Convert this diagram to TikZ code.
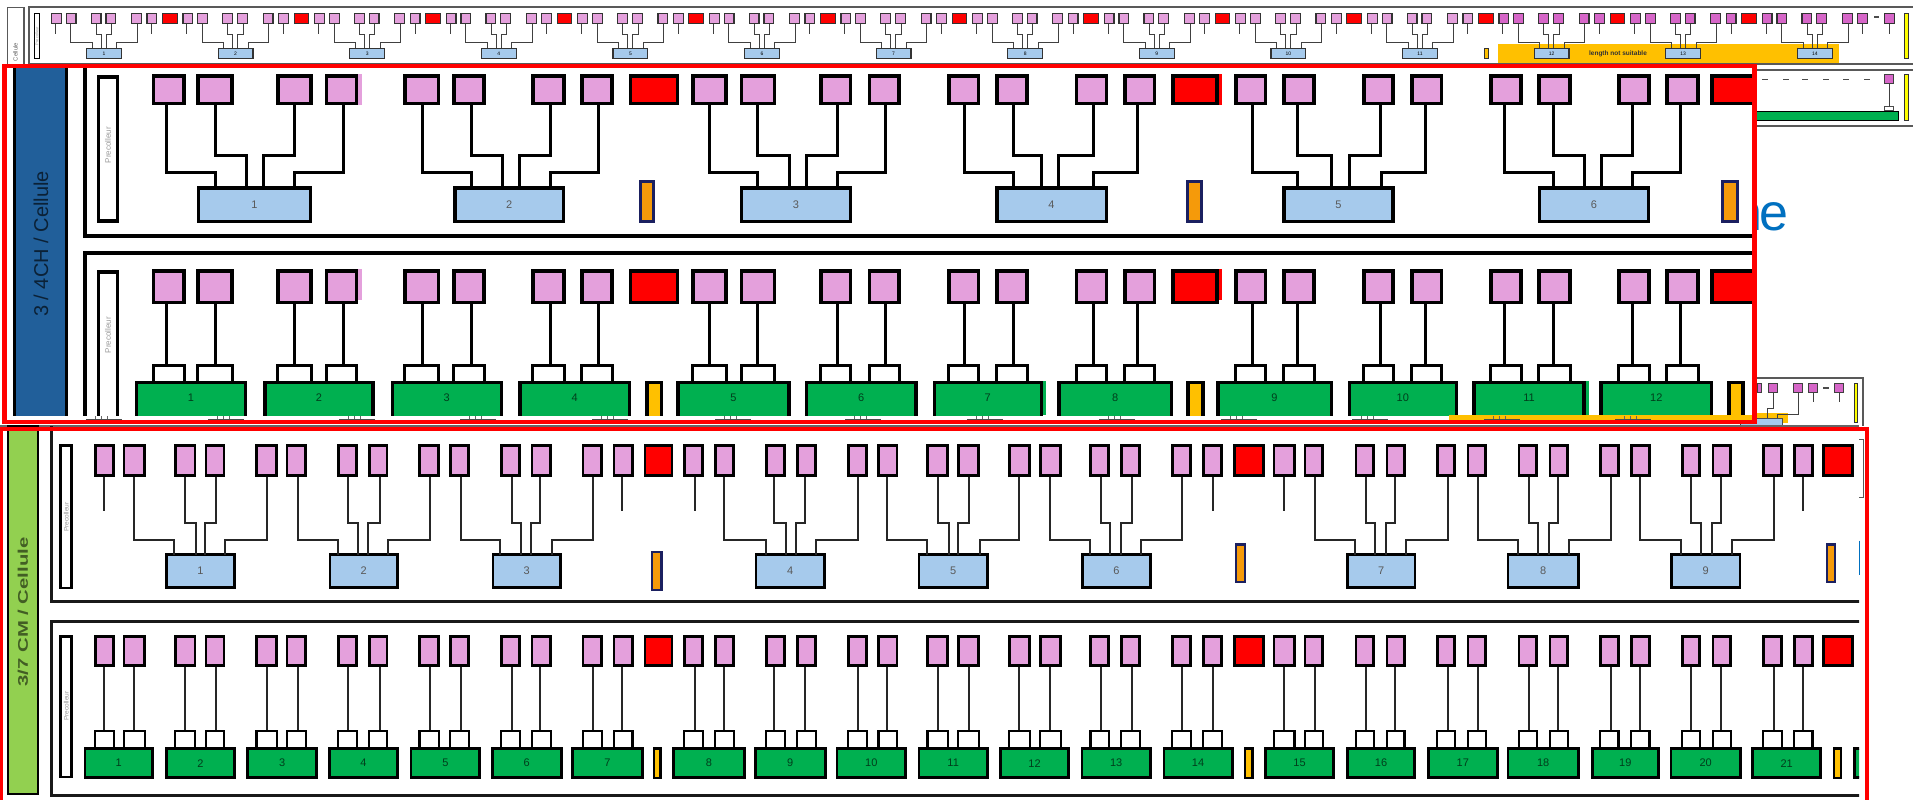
\documentclass[tikz,border=0pt]{standalone}
\usepackage{fontspec}
\setmainfont{Liberation Sans}
\definecolor{pk}{HTML}{E4A0DC}
\definecolor{pkd}{HTML}{D666C8}
\definecolor{lb}{HTML}{A6CAEC}
\definecolor{gr}{HTML}{00B050}
\definecolor{am}{HTML}{FFC000}
\definecolor{og}{HTML}{F59A0A}
\definecolor{nv}{HTML}{1B2060}
\definecolor{sb}{HTML}{215F9A}
\definecolor{sg}{HTML}{92D050}
\definecolor{ye}{HTML}{FFFF00}
\definecolor{bt}{HTML}{0070C0}
\newcommand{\bx}[8]{\node[draw,rectangle,inner sep=0pt,outer sep=0pt,line width=#3pt,#2,minimum width={((#5)-(#4)-(#3))*1pt},minimum height={((#7)-(#6)-(#3))*1pt}] (#1) at ({((#4)+(#5))/2},{((#6)+(#7))/2}) {#8};}
\newcommand{\fz}[1]{\fontsize{#1pt}{#1pt}\selectfont}
\tikzset{
 leadA/.style={line width=3pt,draw=black},
 leadC/.style={line width=2pt,draw=black!85},
 leadS/.style={line width=1pt,draw=black!75},
 panelA/.style={line width=4pt,draw=black},
 panelC/.style={line width=3pt,draw=black!90},
 panelS/.style={line width=1.6pt,draw=black!65},
 frameR/.style={line width=4.4pt,draw=red},
 pinkbox/.style={fill=pk},
 pinkdark/.style={fill=pkd},
 redbox/.style={fill=red},
 tabbox/.style={fill=white},
 bluebox/.style={fill=lb},
 greenbox/.style={fill=gr},
 amberbox/.style={fill=am},
 orangebox/.style={fill=og,draw=nv},
 yellowbox/.style={fill=ye},
 lab/.style={fill=white},
 tinylab/.style={rotate=90,text=black!40,inner sep=0pt,font=\fz{6}},
}
\begin{document}
\begin{tikzpicture}[x=1pt,y=-1pt]
\useasboundingbox[fill=white] (0,0) rectangle (1913,800);
% ---- text behind the frame
\node[text=bt,anchor=base east,inner sep=0pt,font=\fz{52}] (bluetext) at (1789,230) {n\kern-3pt e};
% ---- top strip
\draw[panelS] (1913,7) -| (29,64) -- (1913,64);
\bx{cel}{lab,draw=black!65}{1.2}{7}{24.5}{7}{66}{}
\node[rotate=90,text=black!60,inner sep=0pt,font=\fz{6}] (celtxt) at (15.5,52) {Cellule};
\bx{slab}{lab}{1.2}{33.7}{40.4}{12.7}{59}{}
\node[tinylab,font=\fz{4}] (slabt) at (37,36) {Precolleur};
\fill[am] (1498,44) rectangle (1838.7,63.3);
\foreach \k in {0,...,13}{
 \pgfmathsetmacro{\s}{50.8+131.6*\k}
 \pgfmathtruncatemacro{\n}{\k+1}
 \ifnum\k>10 \def\pkst{pinkdark}\else\def\pkst{pinkbox}\fi
 \foreach \o/\lx [count=\j] in {0/4.5,14.7/20,39.8/45.5,54.5/60.8,80.2/86.5,95.6/101}{
  \bx{s\n p\j}{\pkst,draw=black!80}{1.2}{\s+\o}{\s+\o+11}{12.7}{24}{}
  \coordinate (s\n l\j) at ({\s+\lx},24);
 }
 \ifnum\k<13 \bx{s\n r}{redbox,draw=black!80}{1}{\s+111.2}{\s+126.8}{12.7}{24}{}\fi
 \bx{s\n b}{bluebox,draw=black!80}{1.2}{\s+35.2}{\s+71.2}{48}{59.5}{\fz{5}\n}
 \draw[leadS] (s\n l1) -- ++(0,10);
 \draw[leadS] (s\n l6) -- ++(0,10);
 \draw[leadS] (s\n l2) |- ({\s+41.5},42.7) -- ({\s+41.5},48);
 \draw[leadS] (s\n l3) |- ({\s+50.5},34.3) -- ({\s+50.5},48);
 \draw[leadS] (s\n l4) |- ({\s+55.5},34.3) -- ({\s+55.5},48);
 \draw[leadS] (s\n l5) |- ({\s+66},42.7) -- ({\s+66},48);
}
\node[inner sep=0pt,font=\fz{6.5}\bfseries,text=black!80] (lns) at (1618,54) {length not suitable};
\draw[line width=1.4pt,black!70] (1874.4,17) -- (1879.4,17);
\bx{slast}{pinkdark,draw=black!80}{1.2}{1884}{1894.7}{12.7}{24}{}
\coordinate (slastl) at (1889,24);
\draw[leadS] (slastl) -- ++(0,10);
\bx{sor}{amberbox,draw=black!80}{1}{1484}{1489}{48}{59.5}{}
\bx{sye}{yellowbox,draw=black!80}{1}{1904}{1908.6}{12.7}{59.5}{}
% ---- right fragment, upper
\draw[panelS] (1913,70) -- (1757,70);
\draw[panelS] (1757,126) -- (1913,126);
\foreach \xa in {1762,1783,1802,1823,1843,1864}{\draw[line width=1.2pt,black!70] (\xa,79.5) -- ++(5.5,0);}
\bx{fg}{greenbox}{1.2}{1740}{1899}{110.7}{120.7}{}
\bx{ft}{tabbox,draw=black!70}{1}{1884}{1894.3}{106}{110.7}{}
\bx{fp}{pinkdark,draw=black!75}{1.2}{1884}{1894.3}{74}{84.3}{}
\draw[leadS] (fp.south) -- (ft.north);
\bx{fy}{yellowbox,draw=black!80}{1}{1904}{1909}{74}{120.7}{}
% ---- right fragment, lower
\draw[panelS] (1740,378) -- (1863,378) -- (1863,426);
\fill[am] (1740,413) rectangle (1788,423);
\bx{gp1}{pinkdark,draw=black!75}{1.2}{1757}{1762}{383}{393}{}
\bx{gp2}{pinkdark,draw=black!75}{1.2}{1768}{1778}{383}{393}{}
\bx{gp3}{pinkdark,draw=black!75}{1.2}{1793}{1803}{383}{393}{}
\bx{gp4}{pinkdark,draw=black!75}{1.2}{1808}{1818}{383}{393}{}
\bx{gp5}{pinkdark,draw=black!75}{1.2}{1834}{1844}{383}{393}{}
\draw[line width=1.2pt,black!70] (1823,388) -- (1829,388);
\bx{gb}{bluebox,draw=black!70}{1}{1740}{1783}{418}{430}{}
\draw[leadS] (gp2.south) |- (1767,408) -- (1767,418);
\draw[leadS] (gp3.south) |- (1777,414) -- (1777,418);
\draw[leadS] (gp4.south) -- ++(0,10);
\draw[leadS] (gp5.south) -- ++(0,10);
\bx{gy}{yellowbox,draw=black!80}{1}{1853.7}{1858}{383}{423}{}
\draw[line width=2pt,black!60] (0,426) -- (1859,426);
% ---- section 2 (3/4 CH)
\fill[white] (3,66) rectangle (1754,421);
\begin{scope}
\clip (3,66) rectangle (1752.5,415);
\bx{sideA}{fill=sb}{3}{13.3}{68}{50}{440}{}
\draw[panelA] (1760,235.7) -| (85,50);
\draw[panelA] (85,430) |- (1760,252.7);
\bx{labAa}{lab}{3.5}{96.7}{119}{75}{222.7}{}
\bx{labAb}{lab}{3.5}{96.7}{119}{270}{440}{}
\node[tinylab,font=\fz{8}] (labAat) at (108,145) {Precolleur};
\node[tinylab,font=\fz{8}] (labAbt) at (108,335) {Precolleur};
\foreach \lf/\rt/\lx [count=\i] in {151.8/185.7/166.5,196.3/233.5/215,276/312.6/294,324.5/358/343,403/440.4/422.4,452/485.7/471,531.4/565.7/550,580.4/613.5/598.4,691/727.6/709.7,739.5/776.3/757.4,819/852.4/837,867.9/900.7/885.8,947/980.3/964.9,995/1028.6/1013,1074.8/1108/1093,1123/1156.4/1137.5,1234/1267/1252,1282/1315.6/1297,1362/1394.7/1380,1410/1443.3/1425,1489.3/1522.7/1504.7,1537.3/1571.7/1553,1617.3/1650.7/1632.3,1665.3/1699.7/1680.7}{
 \bx{aT\i}{pinkbox}{3.5}{\lf}{\rt}{74}{105}{}
 \bx{bT\i}{pinkbox}{3.5}{\lf}{\rt}{269}{304}{}
 \bx{bH\i}{tabbox}{3}{\lf}{\rt}{363.5}{384}{}
 \coordinate (aL\i) at (\lx,105);
 \coordinate (bL\i) at (\lx,304);
 \draw[leadA] (bL\i) -- (\lx,364);
}
\foreach \lf/\rt [count=\i] in {628.6/679,1171/1218.6,1710.3/1770}{
 \bx{aR\i}{redbox}{3.5}{\lf}{\rt}{74}{105}{}
 \bx{bR\i}{redbox}{3.5}{\lf}{\rt}{269}{304}{}
}
\fill[pk] (358,74) rectangle (362,105);
\fill[pk] (358,269) rectangle (362,300);
\fill[red] (1218.6,74) rectangle (1222,105);
\fill[red] (1218.6,269) rectangle (1222,300);
\foreach \lf/\rt/\ea/\eb/\ec/\ed [count=\k] in {196.7/312/215/246.5/263.7/294,453/565.3/471/502/519/550,739.5/852.4/757.4/789/806/837,995/1108/1013/1041/1058.4/1093,1282/1394.7/1297/1331.5/1349/1381,1537.7/1650.3/1553/1584/1601/1632}{
 \bx{aB\k}{bluebox}{3.5}{\lf}{\rt}{186}{223}{\fz{11}\textcolor{black!65}{\k}}
 \pgfmathtruncatemacro{\ua}{4*\k-3}\pgfmathtruncatemacro{\ub}{4*\k-2}\pgfmathtruncatemacro{\uc}{4*\k-1}\pgfmathtruncatemacro{\ud}{4*\k}
 \draw[leadA] (aL\ua) |- (\ea,172.7) -- (\ea,0 |- aB\k.north);
 \draw[leadA] (aL\ub) |- (\eb,155) -- (\eb,0 |- aB\k.north);
 \draw[leadA] (aL\uc) |- (\ec,155) -- (\ec,0 |- aB\k.north);
 \draw[leadA] (aL\ud) |- (\ed,172.7) -- (\ed,0 |- aB\k.north);
}
\foreach \lf/\rt [count=\k] in {134.7/247.3,263/374.7,390.6/503,518.4/631,676.3/790.7,804.7/917.6,932.5/1043,1057.4/1173,1216/1333,1347.5/1458,1472.3/1585.7,1599.3/1713.3}{
 \bx{bG\k}{greenbox}{3.5}{\lf}{\rt}{380.7}{440}{}
 \node[inner sep=0pt,font=\fz{11},text=black!65!gr] (bGt\k) at ({(\lf+\rt)/2},398) {\k};
}
\foreach \lf/\rt [count=\k] in {639/655,1186/1203,1721/1739}{
 \bx{aO\k}{orangebox}{3}{\lf}{\rt}{179.5}{223}{}
}
\foreach \lf/\rt [count=\k] in {645/663,1186/1204.7,1727.3/1744.7}{
 \bx{bA\k}{amberbox}{3.5}{\lf}{\rt}{380.7}{440}{}
}
\fill[gr] (1043,380.7) rectangle (1046,415);
\fill[gr] (1585.7,380.7) rectangle (1588.5,415);
\node[rotate=90,inner sep=0pt,font=\fz{20},text=sb!35!black] (sideAt) at (41,244) {3 / 4CH / Cellule};
\end{scope}
% bottom stubs seen under the clipped part
\fill[am] (1449,415) rectangle (1752,420);
\foreach \xa in {86,208,339,460,592,714.6,845,967,1098.7,1220.6,1352.4,1484,1615}{
 \fill[black!70] (\xa,418.5) rectangle ++(36,1.5);
 \foreach \dx in {9,15,21}{\fill[black!60] ({\xa+\dx},415.5) rectangle ++(0.8,3);}
}
\draw[frameR] (1754.5,421.7) -- (4.5,421.7) -- (4.5,66.2) -- (1754.5,66.2) -- cycle;
% ---- section 3 (3/7 CM)
\fill[white] (3,431) rectangle (1864.5,800);
\bx{sideC}{fill=sg}{2.5}{6.7}{39.3}{425}{795}{}
\begin{scope}
\clip (3,425) rectangle (1859,800);
\draw[panelC] (1870,601.7) -| (51,426);
\draw[panelC] (1870,795) -| (51,621.7) -- (1870,621.7);
\bx{labCa}{lab}{2.5}{59.4}{72.8}{444}{589}{}
\bx{labCb}{lab}{2.5}{59.4}{72.8}{635}{778}{}
\node[tinylab,font=\fz{6.5}] (labCat) at (66.3,517) {Precolleur};
\node[tinylab,font=\fz{6.5}] (labCbt) at (66.3,706) {Precolleur};
\foreach \lf/\rt/\lx [count=\i] in {94.2/114.7/103.6,122.8/146/134.4,174/196.4/185.3,204.5/225.4/216,255.4/278/267,285.7/307/297.8,337/358/348.2,367.9/388.4/379.5,418.3/439.7/430,449/470/460.7,500/521/511.6,530.8/551.8/540,581.7/602.7/593.3,612.5/633.5/621.9,683/704/694.7,714/735/723.5,765/786/774,796/817/805.4,847/868/858,877.4/898.4/887,926.4/949/937.8,957/980/968.5,1008/1031/1019.4,1039/1062/1050.4,1089.4/1110/1100.9,1120/1141/1131.9,1171/1192/1182.4,1202/1223/1213.4,1272.7/1295.5/1284,1303.6/1324/1315,1354.5/1375/1366,1385.5/1405.5/1394.5,1436/1456/1447.7,1466.8/1487/1478,1517.7/1538/1529,1548.6/1569/1557.7,1599/1619.5/1611,1630/1650.5/1639.5,1681/1701/1690.5,1711.8/1732/1721,1762/1782.7/1774,1793/1813.6/1802.7}{
 \bx{cT\i}{pinkbox}{2.6}{\lf}{\rt}{444}{476.7}{}
 \bx{dT\i}{pinkbox}{2.6}{\lf}{\rt}{635}{667}{}
 \bx{dH\i}{tabbox}{2.2}{\lf}{\rt}{730}{749}{}
 \coordinate (cL\i) at (\lx,476.7);
 \coordinate (dL\i) at (\lx,667);
 \draw[leadC] (dL\i) -- (\lx,730);
}
\foreach \lf/\rt [count=\i] in {643.8/673.2,1233/1264.5,1822/1853.6}{
 \bx{cR\i}{redbox}{2.6}{\lf}{\rt}{444}{476.7}{}
 \bx{dR\i}{redbox}{2.6}{\lf}{\rt}{635}{667}{}
}
\foreach \i in {1,14,15,28,29,42}{\draw[leadC] (cL\i) -- ++(0,34);}
\foreach \st/\lf/\rt/\ea/\eb/\ec/\ed [count=\k] in {2/165/236/174/196.4/205.4/225,6/328.6/399/337.5/357.6/368.3/388.4,10/491.5/562/500.4/521/531.3/551.8,16/754.5/825.7/766/785.5/796.2/816,20/917.6/988.7/926.7/949/958/979.6,24/1081/1152/1090/1110.4/1120.8/1140.7,30/1346/1416.4/1355/1375/1385.5/1406,34/1506.8/1579.5/1518/1538/1548.6/1569,38/1670/1741.4/1681.4/1701/1711.8/1731.8}{
 \bx{cB\k}{bluebox}{2.6}{\lf}{\rt}{553.3}{589}{\fz{11}\textcolor{black!65}{\k}}
 \pgfmathtruncatemacro{\ub}{\st+1}\pgfmathtruncatemacro{\uc}{\st+2}\pgfmathtruncatemacro{\ud}{\st+3}
 \draw[leadC] (cL\st) |- (\ea,540) -- (\ea,0 |- cB\k.north);
 \draw[leadC] (cL\ub) |- (\eb,523.3) -- (\eb,0 |- cB\k.north);
 \draw[leadC] (cL\uc) |- (\ec,523.3) -- (\ec,0 |- cB\k.north);
 \draw[leadC] (cL\ud) |- (\ed,540) -- (\ed,0 |- cB\k.north);
}
\foreach \lf/\rt [count=\k] in {83.5/154,165/236,246.4/317.9,328/399,409.8/481,491/562.5,571/644,672/745.7,754/826.5,835.7/906.8,917.6/988.7,999/1070,1080.6/1151.8,1162.5/1233.7,1264/1335,1346/1416,1427/1498.6,1506.8/1579.5,1591/1659.5,1669.5/1741.8,1751.4/1822}{
 \bx{dG\k}{greenbox}{2.6}{\lf}{\rt}{747.3}{779}{\fz{11}\textcolor{black!65!gr}{\k}}
}
\bx{dGx}{greenbox}{2.6}{1853}{1880}{747.3}{779}{}
\foreach \lf/\rt/\yt/\yb [count=\k] in {651/662.5/551/591,1235/1246.4/543.3/583.3,1825.5/1836.4/543.3/583.3}{
 \bx{cO\k}{orangebox}{2.2}{\lf}{\rt}{\yt}{\yb}{}
}
\foreach \lf/\rt [count=\k] in {652.7/661.6,1244/1253.6,1833/1842}{
 \bx{dA\k}{amberbox}{2.2}{\lf}{\rt}{747.3}{779}{}
}
\end{scope}
\node[rotate=90,inner sep=0pt,font=\fz{14}\bfseries,text=sg!45!black] (sideCt) at (23,612) {\scalebox{1.45}[1]{3/7 CM / Cellule}};
\draw[line width=1pt,bt] (1859,540.7) -- (1859,575);
\draw[line width=1pt,black!65] (1859,439.5) -- (1863.5,439.5) -- (1863.5,497) -- (1859,497);
\draw[frameR] (1.2,800) -- (1.2,429) -- (1866.7,429) -- (1866.7,800);
\end{tikzpicture}
\end{document}
